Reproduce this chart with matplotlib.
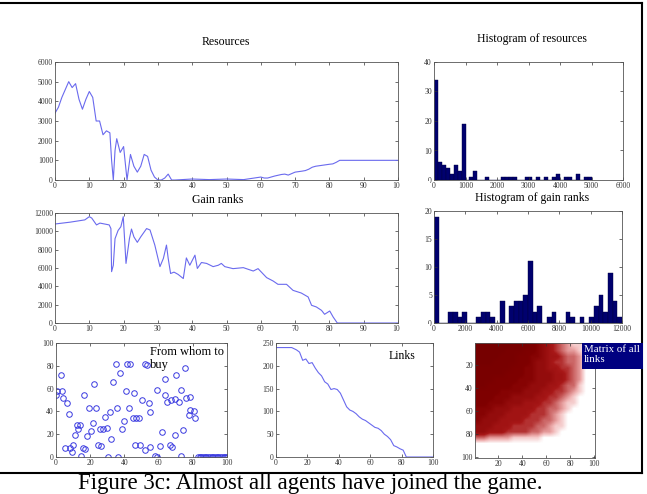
# Figure 3c: resources, gain ranks, histograms, buyers, links and link matrix
import matplotlib
matplotlib.use('Agg')
import matplotlib.pyplot as plt
import numpy as np
from matplotlib.colors import LinearSegmentedColormap
from matplotlib.patches import Rectangle
from matplotlib.lines import Line2D

# resources over time
res_t = [0, 1, 2, 3, 4, 5, 6, 7, 8, 9, 10, 11, 12, 13, 14, 15, 16, 16.5, 17, 17.5,
         18, 19, 20, 21, 22, 23, 24, 25, 26, 27, 28, 29, 30, 31, 32, 33, 34, 35, 40, 45,
         50, 55, 60, 61, 62, 64, 66, 67, 68, 70, 72, 73, 74, 75, 76, 78, 80, 81, 82, 83, 100]
res_val = [3400, 3700, 4200, 4600, 5000, 4700, 4900, 4100, 3600, 4100,
           4500, 4200, 3000, 3000, 2300, 2500, 2400, 1000, 0, 1500,
           2100, 1400, 1700, 0, 1300, 700, 400, 700, 1300, 1200,
           500, 150, 0, 0, 100, 300, 0, 0, 50, 20,
           50, 20, 150, 100, 100, 200, 280, 300, 250, 400,
           450, 480, 550, 650, 700, 750, 800, 820, 900, 1000, 1000]

# gain ranks over time
gain_t = [0, 4.4, 8.7, 10, 10.7, 12.1, 13.1, 15.8, 16.3, 16.5, 17, 17.5, 18.4, 19.2, 19.9,
          20.7, 21.7, 22.3, 23, 24, 25, 26.7, 27.7, 29.1, 30.6, 31.6, 32.5, 33, 33.7, 34.7,
          35.9, 37.4, 38.3, 39.3, 40.8, 41.5, 42.7, 44.2, 46.1, 47.6, 48.5, 49.5, 51.9, 54.9,
          57.8, 59.2, 61.7, 63.6, 65, 67.5, 69.4, 71.8, 73.8, 74.8, 76.2, 77.7, 78.6, 80.1,
          81.1, 82.3, 100]
gain_val = [10800, 11000, 11250, 11600, 11450, 10700, 10900, 10700, 10300, 5600, 6300, 9200,
            10100, 10500, 11600, 6500, 9200, 10250, 9400, 8800, 9400, 10300, 10150, 8500, 6150,
            7050, 8500, 7050, 5400, 5550, 5300, 4850, 7100, 6300, 7400, 5950, 6600, 6500, 6150,
            6300, 6500, 6150, 5930, 6040, 5670, 5930, 4950, 4580, 4220, 4220, 3560, 3270, 2840,
            1930, 1750, 1380, 950, 1310, 650, 0, 0]

# histogram of resources: 40 bins of 125
res_bin = 125
res_counts = [34, 6, 5, 4, 2, 5, 3, 19, 0, 1, 3, 0, 0, 1, 0, 0, 0, 1, 1, 1,
              1, 0, 0, 1, 1, 0, 1, 0, 1, 0, 1, 2, 0, 1, 1, 0, 2, 0, 1, 1]

# histogram of gain ranks: 40 bins of 300
gain_bin = 300
gain_counts = [19, 0, 0, 2, 2, 1, 2, 0, 0, 1, 2, 2, 1, 0, 4, 0, 3, 4, 4, 5,
               11, 2, 3, 0, 1, 2, 0, 0, 2, 1, 0, 1, 0, 1, 3, 5, 2, 9, 4, 1]

# from whom to buy
buy_x = [3, 34.8, 41.8, 43.4, 52, 53, 37.5, 75.6, 70.3, 0.4, 3.3, 0, 4.3, 6.6, 7.8,
         22.5, 33.2, 16.6, 19.5, 23.4, 21.9, 41, 45.7, 50.2, 54.3, 55, 59, 63.9, 63.9,
         64.8, 67.2, 69.7, 71.7, 73, 75.9, 78.5, 78.5, 80.5, 81.4, 77.5,
         28.7, 31.6, 35.5, 42.4, 39.5, 44.9, 46.9, 48.8, 12.1, 14, 13.1, 11.1, 20.3, 18,
         25.8, 27.7, 29.7, 38.5, 32.2, 61.9, 69.7, 74.2, 5.3, 8.2, 9.8, 9.2, 15.6, 17,
         24.8, 26.2, 46.3, 49.2, 52.1, 55, 61, 66.8, 67.8, 73.2, 14.5, 30.7, 36.5, 58, 59,
         83, 84, 85, 86, 87, 88, 89, 90, 91, 92, 93, 94, 95, 96, 97, 98, 99, 100]
buy_y = [72, 82, 82, 82, 82, 81, 74, 78.5, 72, 58, 58, 54.4, 51.5, 47, 38,
         64, 66, 54.4, 43, 43, 29.4, 58, 56.5, 50, 47.6, 39.7, 59, 68.5, 54.4,
         48, 50, 50.6, 48.5, 59, 51.5, 52.4, 41, 40, 34, 37,
         35.3, 39.7, 42.6, 43.2, 31.8, 33.8, 33.8, 34.4, 28.5, 28.5, 24.4, 19, 22.6, 18.2,
         24.4, 25, 25.6, 24.4, 16.2, 21.5, 19, 24.1, 8.2, 8.2, 10.3, 4.4, 7.9, 7.4,
         10.9, 9.7, 10.9, 10.9, 5.9, 8.8, 9.7, 10.9, 8.8, 0.9, 0.9, 0, 0, 1, 0,
         0, 0, 0, 0, 0, 0, 0, 0, 0, 0, 0, 0, 0, 0, 0, 0, 0, 0]

# number of links
links_t = [0, 10, 13, 15, 17, 19, 21, 23, 25, 27, 29, 31, 33, 35, 37, 39, 41, 43, 45, 47,
           49, 51, 53, 55, 57, 59, 61, 63, 65, 67, 69, 71, 73, 75, 77, 79, 81, 83, 100]
links_val = [240, 240, 235, 230, 212, 215, 205, 207, 195, 185, 178, 165, 160, 148, 150, 148,
             140, 125, 110, 103, 100, 95, 88, 83, 80, 75, 70, 65, 63, 58, 50, 45, 38, 25,
             22, 18, 15, 0, 0]

# link matrix, share of links per 5x5 block (rows = agent, cols = partner)
link_density = [
    [1, 1, 1, 1, 1, 1, .9, .9, .9, .8, .7, .6, .5, .4, .3, .2, .1, .1, 0, 0],
    [1, 1, 1, 1, 1, .9, .9, .9, .8, .8, .7, .6, .5, .4, .3, .2, .2, .1, 0, 0],
    [1, 1, 1, 1, .9, .9, .9, .8, .8, .7, .7, .6, .5, .5, .4, .3, .3, .2, 0, 0],
    [1, 1, 1, .9, .9, .9, .9, .8, .8, .7, .6, .6, .5, .4, .4, .3, .3, .2, 0, 0],
    [.9, .9, .9, .9, .9, .9, .8, .8, .7, .7, .6, .6, .5, .5, .4, .4, .3, .2, 0, 0],
    [.9, .9, .9, .9, .9, .8, .8, .8, .7, .7, .6, .6, .6, .5, .5, .4, .3, .2, 0, 0],
    [.9, .9, .9, .8, .8, .8, .8, .7, .7, .7, .6, .6, .6, .5, .5, .4, .3, .2, 0, 0],
    [.9, .9, .8, .8, .8, .8, .7, .7, .7, .6, .6, .6, .5, .5, .4, .3, .3, .1, 0, 0],
    [.8, .8, .8, .8, .7, .7, .7, .7, .6, .6, .6, .5, .5, .4, .4, .3, .2, .1, 0, 0],
    [.8, .8, .8, .7, .7, .7, .6, .6, .6, .6, .5, .5, .4, .4, .3, .2, .1, 0, 0, 0],
    [.8, .8, .7, .7, .7, .6, .6, .6, .5, .5, .5, .4, .4, .3, .2, .1, .1, 0, 0, 0],
    [.7, .7, .7, .6, .6, .6, .5, .5, .5, .5, .4, .4, .3, .3, .2, .1, 0, 0, 0, 0],
    [.7, .7, .6, .6, .6, .5, .5, .5, .5, .4, .4, .4, .3, .2, .1, 0, 0, 0, 0, 0],
    [.7, .6, .6, .6, .5, .5, .5, .5, .4, .4, .4, .3, .3, .2, .1, 0, 0, 0, 0, 0],
    [.6, .6, .6, .5, .5, .5, .4, .4, .4, .4, .3, .3, .2, .1, .1, 0, 0, 0, 0, 0],
    [.6, .6, .5, .5, .5, .4, .4, .4, .4, .3, .3, .2, .2, .1, 0, 0, 0, 0, 0, 0],
    [.3, .3, .2, .2, .2, .2, .1, .1, .1, .1, .1, 0, 0, 0, 0, 0, 0, 0, 0, 0],
    [0] * 20,
    [0] * 20,
    [0] * 20,
]

plt.rcParams['font.family'] = ['Liberation Serif', 'DejaVu Serif']

W, H = 647, 494
fig = plt.figure(figsize=(W / 100, H / 100), dpi=100)
line_col = '#6a6aee'
bar_col = '#00006e'


def box(l, t, r, b):
    # axes from pixel edges
    return fig.add_axes([l / W, 1 - b / H, (r - l) / W, (b - t) / H])


def style(ax):
    ax.tick_params(direction='in', top=True, right=True, length=2, width=0.5,
                   labelsize=5.5, pad=1.5, colors='#333333')
    for s in ax.spines.values():
        s.set_linewidth(0.6)
        s.set_color('#555555')


def title(x, y, txt):
    fig.text(x / W, 1 - y / H, txt, ha='center', va='center', fontsize=8.5)


# Resources
ax = box(55, 62, 398, 180)
ax.plot(res_t, res_val, color=line_col, lw=0.8)
ax.set_xlim(0, 100)
ax.set_ylim(0, 6000)
ax.set_xticks(range(0, 101, 10))
ax.set_yticks(range(0, 6001, 1000))
style(ax)
title(226, 42, 'Resources')

# Histogram of resources
ax = box(434, 62, 623, 180)
ax.bar(np.arange(len(res_counts)) * res_bin, res_counts, width=res_bin, align='edge',
       color=bar_col, edgecolor='#000040', lw=0.3)
ax.set_xlim(0, 6000)
ax.set_ylim(0, 40)
ax.set_xticks(range(0, 6001, 1000))
ax.set_yticks(range(0, 41, 10))
style(ax)
title(532, 39, 'Histogram of resources')

# Gain ranks
ax = box(55, 213, 398, 323)
ax.plot(gain_t, gain_val, color=line_col, lw=0.8)
ax.set_xlim(0, 100)
ax.set_ylim(0, 12000)
ax.set_xticks(range(0, 101, 10))
ax.set_yticks(range(0, 12001, 2000))
style(ax)
title(218, 200, 'Gain ranks')

# Histogram of gain ranks
ax = box(434, 211, 622, 323)
ax.bar(np.arange(len(gain_counts)) * gain_bin, gain_counts, width=gain_bin, align='edge',
       color=bar_col, edgecolor='#000040', lw=0.3)
ax.set_xlim(0, 12000)
ax.set_ylim(0, 20)
ax.set_xticks(range(0, 12001, 2000))
ax.set_yticks(range(0, 21, 5))
style(ax)
title(532, 198, 'Histogram of gain ranks')

# From whom to buy
ax = box(56, 343, 227, 457)
ax.plot(buy_x, buy_y, 'o', ms=4, mfc='none', mec='#3a3ae0', mew=0.7)
ax.set_xlim(0, 100)
ax.set_ylim(0, 100)
ax.set_xticks(range(0, 101, 20))
ax.set_yticks(range(0, 101, 20))
style(ax)
ax.text(55, 97, 'From whom to\nbuy', ha='left', va='top', fontsize=9, linespacing=1.05)

# Links
ax = box(276, 343, 433, 457)
ax.plot(links_t, links_val, color=line_col, lw=0.8)
ax.set_xlim(0, 100)
ax.set_ylim(0, 250)
ax.set_xticks(range(0, 101, 20))
ax.set_yticks(range(0, 251, 50))
style(ax)
ax.text(72, 222, 'Links', ha='left', va='center', fontsize=8.5)

# Matrix of all links
ax = box(475, 343, 595, 458)
cmap = LinearSegmentedColormap.from_list(
    'links', [(0, 'white'), (0.15, '#f0b4b4'), (0.45, '#a81818'), (0.75, '#800000'),
              (1, '#760000')])
ax.imshow(link_density, cmap=cmap, vmin=0, vmax=1, extent=(0.5, 100.5, 100.5, 0.5),
          interpolation='bilinear', aspect='auto')
ax.set_xlim(0.5, 100.5)
ax.set_ylim(100.5, 0.5)
ax.set_xticks(range(20, 101, 20))
ax.set_yticks(range(20, 101, 20))
style(ax)

fig.add_artist(Rectangle((582 / W, 1 - 369 / H), 61 / W, 26 / H, transform=fig.transFigure,
                         facecolor='#000080', edgecolor='none', zorder=5))
fig.text(584 / W, 1 - 345 / H, 'Matrix of all\nlinks', color='white', ha='left', va='top',
         fontsize=7.8, linespacing=1.1, zorder=6)

# right edge of the left plots is cropped in the original
for top in (181, 324):
    fig.add_artist(Rectangle((400 / W, 1 - (top + 14) / H), 30 / W, 14 / H,
                             transform=fig.transFigure, facecolor='white',
                             edgecolor='none', zorder=5))

# frame lines of the page
frame = dict(color='black', lw=1.5, transform=fig.transFigure)
fig.add_artist(Line2D([0, 642 / W], [1 - 3.5 / H, 1 - 3.5 / H], **frame))
fig.add_artist(Line2D([642 / W, 642 / W], [1 - 3.5 / H, 1 - 473 / H], **frame))
fig.add_artist(Line2D([0, 642 / W], [1 - 473 / H, 1 - 473 / H], **frame))

fig.text(78 / W, 5 / H, 'Figure 3c: Almost all agents have joined the game.',
         ha='left', va='baseline', fontsize=16.5)

fig.savefig('out.png', dpi=100)
